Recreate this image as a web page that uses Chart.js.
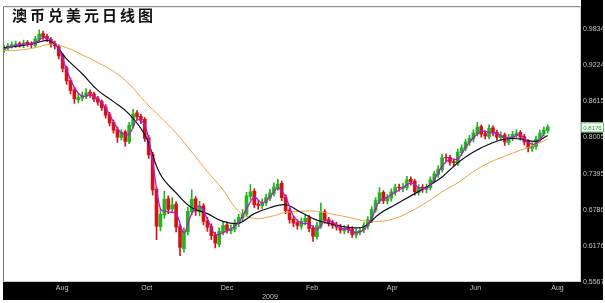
<!DOCTYPE html>
<html>
<head>
<meta charset="utf-8">
<script src="https://cdn.jsdelivr.net/npm/chart.js@4.4.0/dist/chart.umd.min.js"></script>
<style>
  html, body { margin: 0; padding: 0; background: #fff; }
  #wrap { width: 605px; height: 303px; position: relative; }
</style>
</head>
<body>
<div id="wrap"><canvas id="audChart" width="605" height="303"></canvas></div>
<script>
// one candle = two trading days, day index = 2 * i
const opens = [0.948,0.951,0.954,0.956,0.959,0.956,0.961,0.959,0.956,0.966,
  0.976,0.971,0.966,0.959,0.954,0.939,0.918,0.897,0.881,0.864,
  0.867,0.870,0.877,0.874,0.866,0.861,0.852,0.839,0.826,0.814,
  0.800,0.810,0.793,0.820,0.842,0.836,0.831,0.800,0.772,0.713,
  0.650,0.670,0.697,0.680,0.688,0.650,0.613,0.641,0.675,0.697,
  0.675,0.685,0.660,0.650,0.636,0.620,0.641,0.653,0.643,0.646,
  0.655,0.665,0.671,0.701,0.710,0.688,0.685,0.690,0.698,0.706,
  0.716,0.723,0.700,0.678,0.663,0.657,0.651,0.658,0.665,0.648,
  0.633,0.651,0.675,0.662,0.657,0.653,0.650,0.643,0.648,0.646,
  0.636,0.641,0.645,0.651,0.661,0.678,0.693,0.708,0.693,0.698,
  0.708,0.717,0.715,0.716,0.730,0.727,0.708,0.717,0.713,0.716,
  0.728,0.738,0.746,0.767,0.767,0.760,0.757,0.775,0.782,0.792,
  0.798,0.807,0.819,0.807,0.802,0.817,0.809,0.800,0.805,0.792,
  0.800,0.805,0.809,0.802,0.794,0.782,0.785,0.797,0.807,0.812];
const closes = [0.952,0.955,0.957,0.958,0.957,0.960,0.958,0.957,0.967,0.975,
  0.970,0.967,0.958,0.955,0.938,0.917,0.896,0.880,0.866,0.868,
  0.871,0.876,0.873,0.865,0.860,0.851,0.838,0.825,0.813,0.801,
  0.809,0.794,0.821,0.840,0.835,0.830,0.799,0.771,0.712,0.651,
  0.671,0.696,0.679,0.687,0.649,0.615,0.642,0.676,0.696,0.676,
  0.684,0.659,0.649,0.635,0.622,0.642,0.652,0.644,0.647,0.656,
  0.666,0.672,0.702,0.709,0.687,0.686,0.691,0.699,0.707,0.717,
  0.722,0.699,0.677,0.662,0.656,0.652,0.659,0.664,0.647,0.634,
  0.652,0.674,0.661,0.656,0.652,0.649,0.644,0.647,0.645,0.637,
  0.642,0.644,0.652,0.662,0.679,0.694,0.707,0.694,0.699,0.709,
  0.716,0.716,0.717,0.729,0.726,0.709,0.716,0.714,0.717,0.729,
  0.739,0.747,0.766,0.766,0.759,0.758,0.776,0.783,0.793,0.799,
  0.808,0.818,0.806,0.803,0.816,0.808,0.801,0.804,0.793,0.801,
  0.806,0.808,0.801,0.793,0.783,0.786,0.798,0.808,0.813,0.818];
const highs = [0.956,0.959,0.962,0.963,0.962,0.965,0.964,0.962,0.971,0.982,
  0.980,0.975,0.969,0.963,0.957,0.942,0.921,0.901,0.885,0.874,
  0.877,0.883,0.881,0.877,0.870,0.864,0.856,0.843,0.830,0.818,
  0.814,0.813,0.826,0.848,0.846,0.840,0.834,0.804,0.776,0.717,
  0.680,0.710,0.702,0.699,0.692,0.654,0.648,0.683,0.712,0.701,
  0.693,0.689,0.666,0.655,0.641,0.648,0.659,0.658,0.653,0.662,
  0.671,0.679,0.708,0.721,0.714,0.694,0.697,0.705,0.713,0.724,
  0.730,0.727,0.704,0.682,0.668,0.662,0.665,0.670,0.669,0.652,
  0.658,0.690,0.679,0.666,0.661,0.658,0.654,0.652,0.653,0.650,
  0.647,0.649,0.657,0.667,0.684,0.699,0.716,0.711,0.704,0.714,
  0.722,0.722,0.723,0.735,0.734,0.730,0.721,0.721,0.722,0.734,
  0.744,0.753,0.772,0.773,0.771,0.764,0.781,0.788,0.798,0.804,
  0.814,0.826,0.822,0.812,0.822,0.820,0.813,0.810,0.808,0.806,
  0.811,0.814,0.812,0.806,0.797,0.792,0.803,0.813,0.818,0.822];
const lows = [0.944,0.948,0.951,0.952,0.953,0.952,0.954,0.952,0.953,0.962,
  0.966,0.962,0.953,0.950,0.933,0.911,0.890,0.874,0.858,0.859,
  0.862,0.866,0.868,0.861,0.855,0.846,0.833,0.820,0.808,0.792,
  0.796,0.786,0.790,0.816,0.830,0.824,0.794,0.765,0.703,0.628,
  0.643,0.664,0.672,0.674,0.641,0.601,0.607,0.636,0.670,0.669,
  0.668,0.653,0.642,0.628,0.614,0.616,0.636,0.639,0.638,0.641,
  0.650,0.660,0.667,0.696,0.682,0.679,0.680,0.686,0.694,0.702,
  0.711,0.694,0.672,0.656,0.650,0.646,0.646,0.653,0.641,0.625,
  0.629,0.647,0.656,0.651,0.647,0.644,0.639,0.638,0.640,0.632,
  0.631,0.636,0.640,0.646,0.657,0.674,0.689,0.689,0.688,0.693,
  0.703,0.710,0.709,0.712,0.720,0.703,0.703,0.708,0.707,0.712,
  0.724,0.733,0.742,0.760,0.754,0.752,0.753,0.770,0.778,0.787,
  0.793,0.803,0.801,0.798,0.798,0.803,0.796,0.795,0.787,0.788,
  0.795,0.800,0.796,0.788,0.776,0.777,0.781,0.793,0.803,0.808];

// short MA, one point every 4 days
const maShort = [0.950,0.954,0.957,0.958,0.960,0.969,0.965,0.950,0.915,0.885,
  0.870,0.872,0.866,0.850,0.827,0.808,0.806,0.830,0.822,0.760,
  0.680,0.675,0.672,0.640,0.672,0.685,0.663,0.637,0.640,0.646,
  0.657,0.680,0.700,0.690,0.700,0.715,0.700,0.668,0.656,0.655,
  0.645,0.660,0.658,0.648,0.645,0.640,0.645,0.665,0.693,0.700,
  0.708,0.716,0.724,0.716,0.715,0.730,0.752,0.764,0.764,0.784,
  0.800,0.811,0.809,0.808,0.800,0.801,0.805,0.792,0.790,0.806];

// mid and long MA
const maDays = [0,8,16,24,32,40,48,56,64,72,80,88,96,104,112,120,128,136,144,152,
  160,168,176,184,192,200,208,216,224,232,240,248,256,264,272,278];
const maMid = [0.952,0.955,0.960,0.963,0.933,0.908,0.880,0.861,0.840,0.805,
  0.738,0.707,0.682,0.672,0.659,0.656,0.672,0.682,0.687,0.674,
  0.661,0.654,0.649,0.650,0.672,0.687,0.702,0.717,0.734,0.758,
  0.776,0.789,0.798,0.798,0.794,0.804];
const maLong = [0.947,0.948,0.952,0.958,0.952,0.940,0.927,0.912,0.891,0.861,
  0.835,0.808,0.776,0.743,0.712,0.676,0.664,0.667,0.674,0.676,
  0.676,0.671,0.666,0.660,0.659,0.664,0.676,0.691,0.709,0.724,
  0.743,0.758,0.769,0.779,0.789,0.798];

const monthTicks = [29.7, 73, 114, 136, 157.5, 198.5, 241, 283];
const monthLabels = ['Aug', 'Oct', 'Dec', ['', '2009'], 'Feb', 'Apr', 'Jun', 'Aug'];
const priceTicks = [0.9834, 0.9224, 0.8615, 0.8005, 0.7395, 0.6786, 0.6176, 0.5567];
const lastPrice = 0.8176;
const titleText = '澳币兑美元日线图';

const upColor = '#22b422';
const downColor = '#d41414';
const candleColors = closes.map((c, i) => c >= opens[i] ? upColor : downColor);
const axisFont = { size: 7, family: 'Liberation Sans, Arial, sans-serif' };

// black panels, frame and title
const framePlugin = {
    id: 'frame',
    beforeDraw(chart) {
        const { ctx, chartArea: a } = chart;
        ctx.save();
        ctx.fillStyle = '#fff';
        ctx.fillRect(0, 0, chart.width, chart.height);
        ctx.fillStyle = '#000';
        ctx.fillRect(a.right, 0, 603 - a.right, 300);
        ctx.fillRect(a.left, a.bottom, 603 - a.left, 300 - a.bottom);
        ctx.strokeStyle = '#777';
        ctx.lineWidth = 1;
        ctx.beginPath();
        ctx.moveTo(a.left + 0.5, a.bottom);
        ctx.lineTo(a.left + 0.5, a.top + 0.5);
        ctx.lineTo(a.right, a.top + 0.5);
        ctx.stroke();
        ctx.strokeStyle = '#ccc';
        ctx.beginPath();
        ctx.moveTo(a.right - 0.5, a.top);
        ctx.lineTo(a.right - 0.5, a.bottom);
        ctx.moveTo(a.left, a.bottom - 0.5);
        ctx.lineTo(a.right, a.bottom - 0.5);
        ctx.stroke();
        ctx.restore();
    },
    afterDraw(chart) {
        const { ctx } = chart;
        ctx.save();
        ctx.fillStyle = '#111';
        ctx.font = 'bold 15px "Noto Sans CJK SC", sans-serif';
        ctx.textBaseline = 'middle';
        ctx.letterSpacing = '3px';
        ctx.fillText(titleText, 12, 15);
        ctx.letterSpacing = '0px';
        // last price marker
        const y = chart.scales.y.getPixelForValue(lastPrice);
        ctx.fillStyle = '#fff';
        ctx.fillRect(581, y - 5, 23, 10);
        ctx.strokeStyle = '#6c6';
        ctx.strokeRect(581.5, y - 4.5, 22, 9);
        ctx.fillStyle = '#1a9a1a';
        ctx.font = '6px Liberation Sans, Arial, sans-serif';
        ctx.textAlign = 'center';
        ctx.fillText(lastPrice.toFixed(4), 592.5, y + 0.5);
        ctx.restore();
    }
};

const ctx = document.getElementById('audChart').getContext('2d');
new Chart(ctx, {
    type: 'bar',
    data: {
        datasets: [
            { type: 'line', label: 'MA short', data: maShort.map((v, k) => ({ x: 4 * k, y: v })),
              borderColor: '#b818d0', borderWidth: 1.3, pointRadius: 0, tension: 0.35, order: 0 },
            { type: 'line', label: 'MA mid', data: maMid.map((v, k) => ({ x: maDays[k], y: v })),
              borderColor: '#0c0c24', borderWidth: 1.2, pointRadius: 0, tension: 0.4, order: 1 },
            { type: 'line', label: 'MA long', data: maLong.map((v, k) => ({ x: maDays[k], y: v })),
              borderColor: '#f2a23c', borderWidth: 1, pointRadius: 0, tension: 0.4, order: 2 },
            { label: 'body', data: closes.map((c, i) => ({ x: 2 * i, y: [opens[i], c] })),
              backgroundColor: candleColors, barThickness: 3, grouped: false, order: 3 },
            { label: 'wick', data: closes.map((c, i) => ({ x: 2 * i, y: [lows[i], highs[i]] })),
              backgroundColor: candleColors, barThickness: 1, grouped: false, order: 4 }
        ]
    },
    options: {
        responsive: false,
        animation: false,
        layout: { padding: { left: 3, top: 5, right: 2, bottom: 3 } },
        plugins: { legend: { display: false }, tooltip: { enabled: false } },
        scales: {
            x: {
                type: 'linear', min: -0.5, max: 295, offset: false,
                grid: { display: false, drawTicks: false }, border: { display: false },
                afterBuildTicks: s => { s.ticks = monthTicks.map(v => ({ value: v })); },
                afterFit: s => { s.height = 18; },
                ticks: { autoSkip: false, maxRotation: 0, padding: 2, color: '#c4c4c4', font: axisFont,
                         callback: (v, i) => monthLabels[i] }
            },
            y: {
                position: 'right', min: 0.5567, max: 1.022,
                grid: { display: false, drawTicks: false }, border: { display: false },
                afterBuildTicks: s => { s.ticks = priceTicks.map(v => ({ value: v })); },
                afterFit: s => { s.width = 22; },
                ticks: { padding: 2, color: '#c4c4c4', font: axisFont, callback: v => v.toFixed(4) }
            }
        }
    },
    plugins: [framePlugin]
});
</script>
</body>
</html>
